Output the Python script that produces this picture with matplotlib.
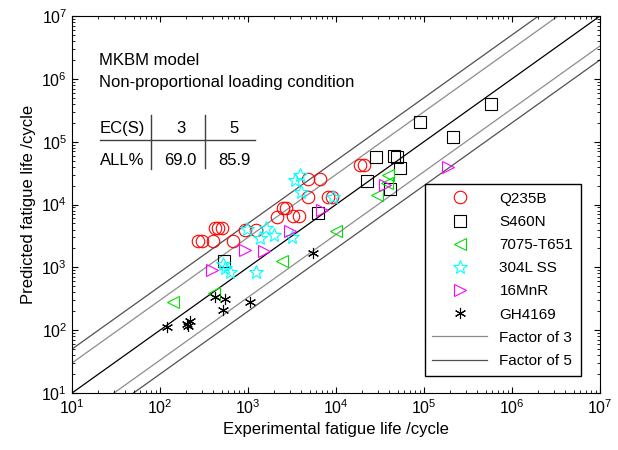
import numpy as np
import matplotlib
matplotlib.use('Agg')
import matplotlib.pyplot as plt

plt.rcParams['font.family'] = ['Liberation Sans', 'DejaVu Sans']
plt.rcParams['mathtext.fontset'] = 'custom'
plt.rcParams['mathtext.rm'] = 'Liberation Sans'

# Experimental / predicted fatigue lives (cycles)
q235b_exp = [270, 300, 400, 676, 422, 456, 507, 924, 1233, 2138, 2500, 2705, 3246, 3800,
             4810, 8110, 9010, 4810, 6580, 18740, 20800]
q235b_pre = [2620, 2620, 2620, 2620, 4230, 4230, 4230, 3930, 3930, 6330, 8790, 8790, 6560, 6560,
             13150, 13150, 13150, 25450, 25450, 42550, 42550]

s460n_exp = [534, 6240, 22500, 28500, 41100, 45600, 49300, 53300, 90100, 213600, 576500]
s460n_pre = [1262, 7330, 23680, 57000, 17650, 59100, 57000, 38100, 205600, 118600, 397500]

t651_exp = [140.6, 411, 2432, 10000, 29200, 39000, 38000]
t651_pre = [280.5, 390, 1262, 3787, 14170, 29470, 22000]

ss304_exp = [520, 548, 624, 975, 1233, 1368, 1603, 1974, 3162, 3420, 3900, 4000, 9240]
ss304_pre = [1130, 975, 843, 4074, 843, 2930, 4230, 3270, 3040, 24540, 29470, 15800, 13150]

mnr_exp = [390, 924, 1520, 3000, 6940, 36100, 187500]
mnr_pre = [906, 1888, 1820, 3787, 8170, 20400, 39500]

gh_exp = [120, 203, 219, 210, 422, 548, 520, 1054, 5480]
gh_pre = [112, 125, 140, 118, 337, 313, 209, 281, 1690]

ec_labels = ['3', '5']
ec_values = ['69.0', '85.9']

fig = plt.figure(figsize=(6.18, 4.5), dpi=100)
ax = fig.add_axes([72/618, 1-393/450, 528/618, 377/450])

xl = np.array([1e1, 1e7])
ax.plot(xl, xl, color='black', lw=0.9, zorder=1)
ax.plot(xl, xl*3, color='#8c8c8c', lw=0.9, zorder=1)
ax.plot(xl, xl/3, color='#8c8c8c', lw=0.9, zorder=1)
ax.plot(xl, xl*5, color='#505050', lw=0.9, zorder=1)
ax.plot(xl, xl/5, color='#505050', lw=0.9, zorder=1)

kw = dict(ls='none', mfc='none', mew=0.8)
ax.plot(q235b_exp, q235b_pre, marker='o', color='#ff0000', ms=9, label='Q235B', **kw)
ax.plot(s460n_exp, s460n_pre, marker='s', color='black', ms=9, label='S460N', **kw)
ax.plot(t651_exp, t651_pre, marker='<', color='#00e000', ms=9, label='7075-T651', **kw)
ax.plot(ss304_exp, ss304_pre, marker='*', color='#00ffff', ms=10, label='304L SS', **kw)
ax.plot(mnr_exp, mnr_pre, marker='>', color='#ff00ff', ms=9, label='16MnR', **kw)
ax.plot(gh_exp, gh_pre, marker=(6, 2, 0), color='black', ms=8, label='GH4169', **kw)

# dummy handles for legend lines
ax.plot([], [], color='#8c8c8c', lw=0.9, label='Factor of 3')
ax.plot([], [], color='#505050', lw=0.9, label='Factor of 5')

ax.set_xscale('log')
ax.set_yscale('log')
ax.set_xlim(1e1, 1e7)
ax.set_ylim(1e1, 1e7)
ax.tick_params(which='both', direction='in', top=True, right=True, labelsize=11.5)
ax.tick_params(which='major', length=4)
ax.tick_params(which='minor', length=2)
ax.set_xticks([10**k for k in range(1, 8)])
ax.set_yticks([10**k for k in range(1, 8)])
ax.set_xlabel('Experimental fatigue life /cycle', fontsize=12)
ax.set_ylabel('Predicted fatigue life /cycle', fontsize=12)

leg = ax.legend(loc='lower right', bbox_to_anchor=(0.978, 0.026), fontsize=11,
                labelspacing=0.6, handlelength=3.6, fancybox=False, edgecolor='black',
                framealpha=1, borderpad=0.5)
leg.get_frame().set_linewidth(1.0)

ax.text(0.052, 0.881, 'MKBM model', transform=ax.transAxes, fontsize=12, va='center')
ax.text(0.052, 0.823, 'Non-proportional loading condition', transform=ax.transAxes,
        fontsize=12, va='center')
ax.text(0.053, 0.702, 'EC(S)', transform=ax.transAxes, fontsize=12, va='center')
ax.text(0.053, 0.616, 'ALL%', transform=ax.transAxes, fontsize=12, va='center')
for xp, lab, val in zip([0.206, 0.307], ec_labels, ec_values):
    ax.text(xp, 0.702, lab, transform=ax.transAxes, fontsize=12, va='center', ha='center')
    ax.text(xp, 0.616, val, transform=ax.transAxes, fontsize=12, va='center', ha='center')
ax.plot([0.149, 0.149], [0.593, 0.737], transform=ax.transAxes, color='#404040', lw=1.0)
ax.plot([0.252, 0.252], [0.596, 0.737], transform=ax.transAxes, color='#404040', lw=1.0)
ax.plot([0.053, 0.347], [0.672, 0.672], transform=ax.transAxes, color='#404040', lw=1.0)

fig.savefig('out.png', dpi=100)
